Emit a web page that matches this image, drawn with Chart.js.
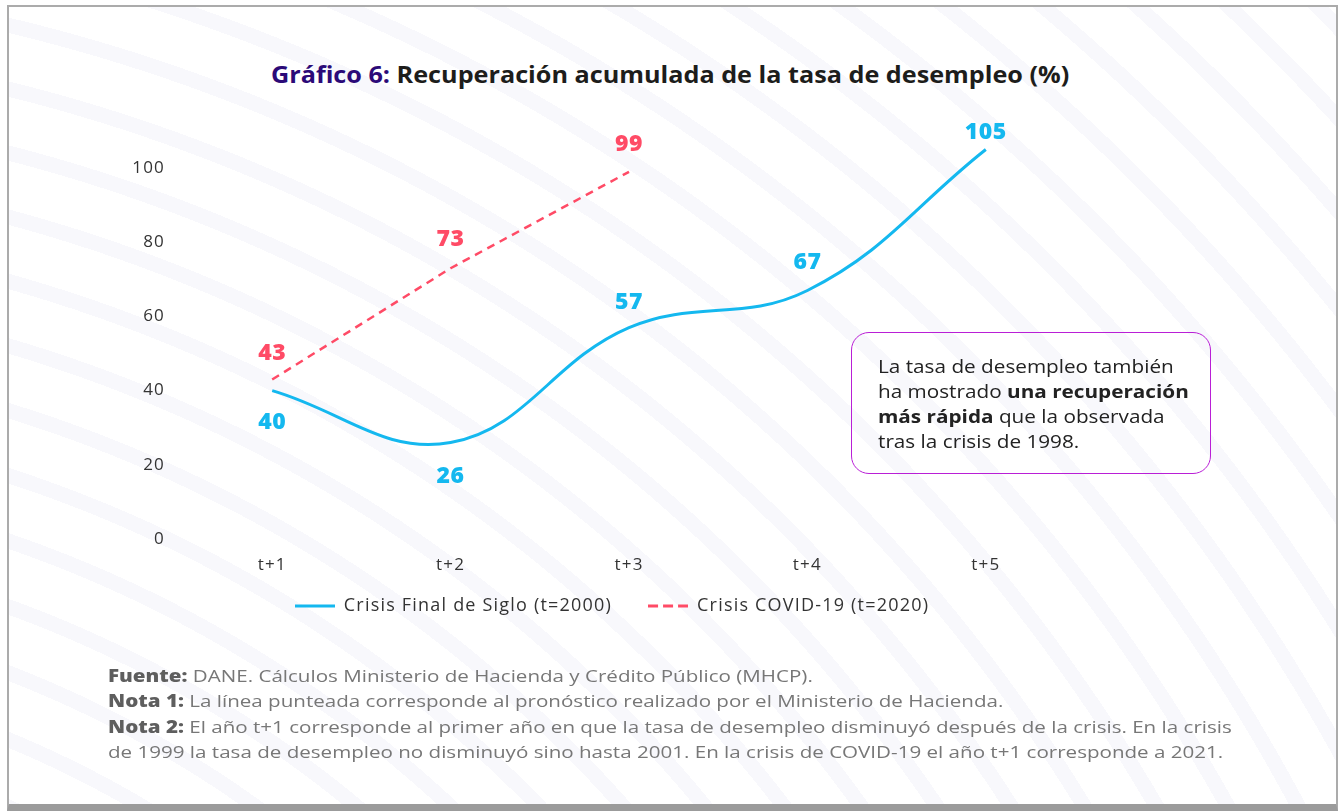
<!DOCTYPE html>
<html>
<head>
<meta charset="utf-8">
<script src="https://cdn.jsdelivr.net/npm/chart.js@4"></script>
<style>
  html, body { margin: 0; padding: 0; background: #fff; }
  body { width: 1341px; height: 811px; position: relative; overflow: hidden; font-family: "Open Sans", sans-serif; }
  #frame {
    position: absolute; left: 7px; top: 5px; width: 1327px; height: 797px;
    border: 2px solid #ababab; border-bottom: 7px solid #9b9b9b;
    background: repeating-radial-gradient(circle at -400px 1700px, #fff 0 47px, #f8f8fc 47px 62px);
  }
  #title {
    position: absolute; left: 0; top: 57px; width: 1341px; text-align: center;
    font-size: 24px; font-weight: 700; color: #1d1d1b;
  }
  #title span.inner { display: inline-block; transform: scaleX(1.05); }
  #title .num { color: #2b0a78; }
  #myChart { position: absolute; left: 0; top: 0; }
  #note {
    position: absolute; left: 851px; top: 332px; width: 332px; height: 102px;
    padding: 20px 0 18px 26px; border: 1.5px solid #b91fd6; border-radius: 18px;
    font-size: 18.5px; line-height: 25px; color: #222;
  }
  #note .inner { transform: scaleX(1.12); transform-origin: left top; white-space: nowrap; }
  #note b { font-weight: 700; }
  #foot {
    position: absolute; left: 108px; top: 663px; width: 1000px;
    font-size: 17px; line-height: 25.3px; color: #777; white-space: nowrap;
    transform: scaleX(1.21); transform-origin: left top;
  }
  #foot b { color: #5e5e5e; font-weight: 800; }
</style>
</head>
<body>
<div id="frame"></div>
<div id="title"><span class="inner"><span class="num">Gráfico 6:</span> Recuperación acumulada de la tasa de desempleo (%)</span></div>
<canvas id="myChart" width="1341" height="811"></canvas>
<div id="note"><div class="inner">La tasa de desempleo también<br>ha mostrado <b>una recuperación<br>más rápida</b> que la observada<br>tras la crisis de 1998.</div></div>
<div id="foot">
  <b>Fuente:</b> DANE. Cálculos Ministerio de Hacienda y Crédito Público (MHCP).<br>
  <b>Nota 1:</b> La línea punteada corresponde al pronóstico realizado por el Ministerio de Hacienda.<br>
  <b>Nota 2:</b> El año t+1 corresponde al primer año en que la tasa de desempleo disminuyó después de la crisis. En la crisis<br>
  de 1999 la tasa de desempleo no disminuyó sino hasta 2001. En la crisis de COVID-19 el año t+1 corresponde a 2021.
</div>
<script>
const periods = ["t+1", "t+2", "t+3", "t+4", "t+5"];
const crisis2000 = [40, 26, 57, 67, 105];
const covid2020 = [43, 73, 99, null, null];
const yTickValues = [0, 20, 40, 60, 80, 100];

const blue = "#14b8ef";
const red = "#ff4b66";

// vertical offset of each value label from its point (px)
const labelOffsets = [
  [32, 34, -25, -28, -17],
  [-26, -29, -27]
];

// small line samples used as legend markers
function legendLine(color, width, dash) {
  const c = document.createElement("canvas");
  c.width = 40;
  c.height = 4;
  const g = c.getContext("2d");
  g.strokeStyle = color;
  g.lineWidth = width;
  g.setLineDash(dash);
  g.beginPath();
  g.moveTo(0, 2);
  g.lineTo(40, 2);
  g.stroke();
  return c;
}

const valueLabels = {
  id: "valueLabels",
  afterDatasetsDraw(chart) {
    const ctx = chart.ctx;
    chart.data.datasets.forEach((ds, i) => {
      const meta = chart.getDatasetMeta(i);
      meta.data.forEach((pt, j) => {
        const v = ds.data[j];
        if (v == null) return;
        ctx.save();
        ctx.letterSpacing = "0.5px";
        ctx.font = '800 23px "Open Sans"';
        ctx.fillStyle = ds.borderColor;
        ctx.textAlign = "center";
        ctx.textBaseline = "middle";
        ctx.fillText(v, pt.x, pt.y + labelOffsets[i][j]);
        ctx.restore();
      });
    });
  }
};

// wider text to match the original typeface
const spacing = {
  id: "spacing",
  beforeUpdate(chart) { chart.ctx.letterSpacing = "1.2px"; }
};

// move the legend so it sits under the plot like in the original
const legendShift = {
  id: "legendShift",
  afterLayout(chart) {
    const lg = chart.legend;
    const dx = 612 - (lg.left + lg.right) / 2;
    const dy = 561 - lg.top;
    lg.left += dx;
    lg.right += dx;
    lg.top += dy;
    lg.bottom += dy;
  }
};

const ctx = document.getElementById("myChart");

new Chart(ctx, {
  type: "line",
  data: {
    labels: periods,
    datasets: [
      {
        label: "Crisis Final de Siglo (t=2000)",
        data: crisis2000,
        borderColor: blue,
        backgroundColor: blue,
        borderWidth: 3,
        tension: 0.4,
        pointRadius: 0,
        pointStyle: legendLine(blue, 3, [])
      },
      {
        label: "Crisis COVID-19 (t=2020)",
        data: covid2020,
        borderColor: red,
        backgroundColor: red,
        borderWidth: 2.5,
        borderDash: [8, 6],
        tension: 0,
        pointRadius: 0,
        pointStyle: legendLine(red, 3, [10, 5])
      }
    ]
  },
  options: {
    responsive: false,
    animation: false,
    layout: { padding: { left: 83, right: 266, top: 131, bottom: 163 } },
    plugins: {
      tooltip: { enabled: false },
      legend: {
        position: "bottom",
        labels: {
          usePointStyle: true,
          pointStyleWidth: 40,
          padding: 36,
          color: "#333",
          font: { family: "Open Sans", size: 18 }
        }
      }
    },
    scales: {
      x: {
        offset: true,
        grid: { display: false, drawTicks: false },
        border: { display: false },
        ticks: { padding: 16, color: "#333", font: { family: "Open Sans", size: 17 } },
        afterFit(scale) { scale.height = 45; }
      },
      y: {
        min: 0,
        max: 110,
        grid: { display: false, drawTicks: false },
        border: { display: false },
        ticks: { padding: 18, color: "#333", font: { family: "Open Sans", size: 17 } },
        afterBuildTicks(scale) {
          scale.ticks = yTickValues.map(v => ({ value: v }));
        },
        afterFit(scale) { scale.width = 100; }
      }
    }
  },
  plugins: [spacing, valueLabels, legendShift]
});
</script>
</body>
</html>
